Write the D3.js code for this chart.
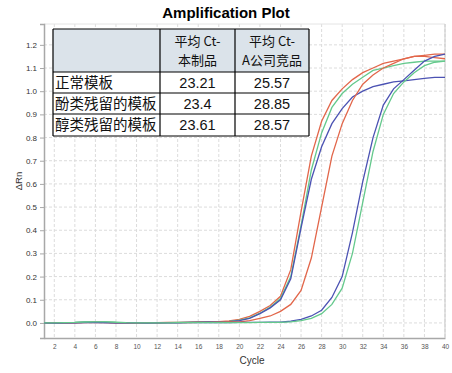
<!DOCTYPE html>
<html>
<head>
<meta charset="utf-8">
<script src="https://cdn.jsdelivr.net/npm/d3@7"></script>
<style>
  body { margin: 0; background: #fff; }
  svg { display: block; }
</style>
</head>
<body>
<div id="chart"></div>
<script>
// cycle numbers and dRn values
var cycles = d3.range(1, 41);

var product_normal   = [0.000,0.000,0.000,0.001,0.002,0.003,0.002,0.001,0.000,0.000,0.000,0.001,0.002,0.002,0.003,0.004,0.005,0.006,0.009,0.015,0.028,0.050,0.075,0.115,0.230,0.480,0.720,0.870,0.960,1.010,1.050,1.080,1.100,1.120,1.130,1.140,1.150,1.150,1.145,1.140];
var product_green    = [0.000,0.000,0.001,0.002,0.004,0.005,0.004,0.002,0.001,0.000,0.000,0.000,0.001,0.002,0.002,0.003,0.004,0.005,0.007,0.012,0.022,0.042,0.068,0.105,0.200,0.420,0.660,0.820,0.930,0.990,1.030,1.060,1.090,1.100,1.110,1.120,1.125,1.130,1.130,1.130];
var product_blue     = [0.000,-0.001,0.000,0.001,0.002,0.002,0.001,0.000,0.000,-0.001,0.000,0.000,0.001,0.001,0.002,0.003,0.004,0.005,0.006,0.010,0.020,0.040,0.065,0.100,0.190,0.410,0.620,0.760,0.860,0.925,0.975,1.000,1.020,1.030,1.040,1.045,1.050,1.055,1.060,1.060];
var rival_normal     = [0.000,0.000,0.000,0.000,0.001,0.002,0.001,0.000,0.000,-0.001,0.000,0.000,0.001,0.001,0.001,0.002,0.002,0.003,0.004,0.005,0.010,0.020,0.030,0.050,0.080,0.140,0.280,0.500,0.720,0.860,0.960,1.030,1.070,1.100,1.120,1.140,1.150,1.155,1.160,1.160];
var rival_blue       = [0.000,-0.001,0.000,0.000,0.001,0.001,0.001,0.000,0.000,0.000,-0.001,0.000,0.000,0.000,0.001,0.001,0.001,0.001,0.001,0.002,0.002,0.002,0.003,0.003,0.008,0.015,0.030,0.055,0.110,0.200,0.390,0.610,0.800,0.940,1.010,1.050,1.090,1.130,1.150,1.160];
var rival_green      = [0.000,0.000,0.001,0.002,0.004,0.005,0.005,0.003,0.001,0.000,0.000,0.000,0.000,0.001,0.001,0.001,0.001,0.001,0.001,0.001,0.001,0.002,0.002,0.002,0.005,0.010,0.020,0.040,0.080,0.150,0.300,0.520,0.740,0.900,0.990,1.040,1.080,1.110,1.125,1.130];

var series_names  = ["product_normal", "product_green", "product_blue", "rival_normal", "rival_blue", "rival_green"];
var series_colors = ["#e2664a", "#64c98c", "#4b52b3", "#e2664a", "#4b52b3", "#64c98c"];
var series_values = [product_normal, product_green, product_blue, rival_normal, rival_blue, rival_green];

var x_ticks = d3.range(2, 41, 2);
var y_ticks = d3.range(0, 13).map(function (i) { return i / 10; });

// table contents
var table_head = [["", ""], ["平均 Ct-", "本制品"], ["平均 Ct-", "A公司竞品"]];
var table_rows = ["正常模板", "酚类残留的模板", "醇类残留的模板"];
var table_product = ["23.21", "23.4", "23.61"];
var table_rival   = ["25.57", "28.85", "28.57"];

var width_chart  = 452;
var height_chart = 373;
var left_plot = 44, right_plot = 445, top_plot = 24, bottom_plot = 338;

var svg_chart = d3.select("#chart").append("svg")
  .attr("width", width_chart)
  .attr("height", height_chart)
  .style("font-family", "'Liberation Sans', Arial, sans-serif");

var x_chart = d3.scaleLinear().domain([1, 40]).range([left_plot, right_plot]);
var y_chart = d3.scaleLinear().domain([-0.065, 1.29]).range([bottom_plot, top_plot]);

// title
svg_chart.append("text")
  .attr("x", 226).attr("y", 18)
  .attr("text-anchor", "middle")
  .style("font-size", "15px")
  .style("font-weight", "bold")
  .text("Amplification Plot");

// grid
var grid_chart = svg_chart.append("g");
grid_chart.selectAll(".vgrid").data(x_ticks).enter().append("line")
  .attr("x1", function (d) { return x_chart(d); })
  .attr("x2", function (d) { return x_chart(d); })
  .attr("y1", top_plot).attr("y2", bottom_plot)
  .style("stroke", "#dcdcdc").style("stroke-dasharray", "3,2");
grid_chart.selectAll(".hgrid").data(y_ticks).enter().append("line")
  .attr("x1", left_plot).attr("x2", right_plot)
  .attr("y1", function (d) { return y_chart(d); })
  .attr("y2", function (d) { return y_chart(d); })
  .style("stroke", "#dcdcdc").style("stroke-dasharray", "3,2");

// frame, top and right lighter
svg_chart.append("line").attr("x1", left_plot).attr("x2", right_plot).attr("y1", top_plot).attr("y2", top_plot)
  .style("stroke", "#e4e4e4");
svg_chart.append("line").attr("x1", right_plot).attr("x2", right_plot).attr("y1", top_plot).attr("y2", bottom_plot)
  .style("stroke", "#c8c8c8");

// axes
var axis_y = svg_chart.append("g")
  .attr("transform", "translate(" + left_plot + ",0)")
  .call(d3.axisLeft(y_chart).tickValues(y_ticks).tickFormat(d3.format(".1f")).tickSize(4).tickPadding(3));
var axis_x = svg_chart.append("g")
  .attr("transform", "translate(0," + bottom_plot + ")")
  .call(d3.axisBottom(x_chart).tickValues(x_ticks).tickSize(0).tickPadding(6));
[axis_y, axis_x].forEach(function (a) {
  a.select(".domain").style("stroke", "#a8a8a8").style("stroke-width", 1.5);
  a.selectAll(".tick line").style("stroke", "#a8a8a8");
});
axis_y.selectAll("text").style("font-size", "8px").style("fill", "#333");
axis_x.selectAll("text").style("font-size", "6.5px").style("fill", "#555");

svg_chart.append("text")
  .attr("x", 252).attr("y", 364)
  .attr("text-anchor", "middle")
  .style("font-size", "10px").style("fill", "#333")
  .text("Cycle");
svg_chart.append("text")
  .attr("transform", "translate(22,181) rotate(-90)")
  .attr("text-anchor", "middle")
  .style("font-size", "9.5px").style("fill", "#333")
  .text("ΔRn");

// curves
var line_chart = d3.line()
  .x(function (d, i) { return x_chart(cycles[i]); })
  .y(function (d) { return y_chart(d); });

var curves_chart = svg_chart.append("g");
series_values.forEach(function (vals, k) {
  curves_chart.append("path")
    .datum(vals)
    .attr("class", series_names[k])
    .attr("d", line_chart)
    .style("fill", "none")
    .style("stroke", series_colors[k])
    .style("stroke-width", 1.3);
});

// table
var col_x = [53, 160, 235, 309];
var row_y = [29, 72, 93, 114, 136];
var table_g = svg_chart.append("g").style("font-family", "'Noto Sans CJK SC', 'Liberation Sans', sans-serif");
table_g.append("rect")
  .attr("x", col_x[0]).attr("y", row_y[0])
  .attr("width", col_x[3] - col_x[0]).attr("height", row_y[1] - row_y[0])
  .style("fill", "#dbe3ea");
table_g.append("rect")
  .attr("x", col_x[0]).attr("y", row_y[1])
  .attr("width", col_x[3] - col_x[0]).attr("height", row_y[4] - row_y[1])
  .style("fill", "#fff");
row_y.forEach(function (y) {
  table_g.append("line").attr("x1", col_x[0]).attr("x2", col_x[3]).attr("y1", y).attr("y2", y)
    .style("stroke", "#000").style("stroke-width", 1.2);
});
col_x.forEach(function (x) {
  table_g.append("line").attr("x1", x).attr("x2", x).attr("y1", row_y[0]).attr("y2", row_y[4])
    .style("stroke", "#000").style("stroke-width", 1.2);
});
table_head.forEach(function (h, c) {
  if (!h[0]) return;
  var cx = (col_x[c] + col_x[c + 1]) / 2;
  var t = table_g.append("text").attr("text-anchor", "middle")
    .style("font-size", "13px").style("fill", "#111");
  t.append("tspan").attr("x", cx).attr("y", 45.5).text(h[0]);
  t.append("tspan").attr("x", cx).attr("y", 64.5).text(h[1]);
});
table_rows.forEach(function (r, i) {
  var base = row_y[i + 1] + 16;
  table_g.append("text").attr("x", col_x[0] + 2).attr("y", base)
    .style("font-size", "14.5px").style("fill", "#111").text(r);
  table_g.append("text").attr("x", (col_x[1] + col_x[2]) / 2).attr("y", base).attr("text-anchor", "middle")
    .style("font-size", "14.5px").style("fill", "#111").style("font-family", "'Liberation Sans', Arial, sans-serif").text(table_product[i]);
  table_g.append("text").attr("x", (col_x[2] + col_x[3]) / 2).attr("y", base).attr("text-anchor", "middle")
    .style("font-size", "14.5px").style("fill", "#111").style("font-family", "'Liberation Sans', Arial, sans-serif").text(table_rival[i]);
});
</script>
</body>
</html>
